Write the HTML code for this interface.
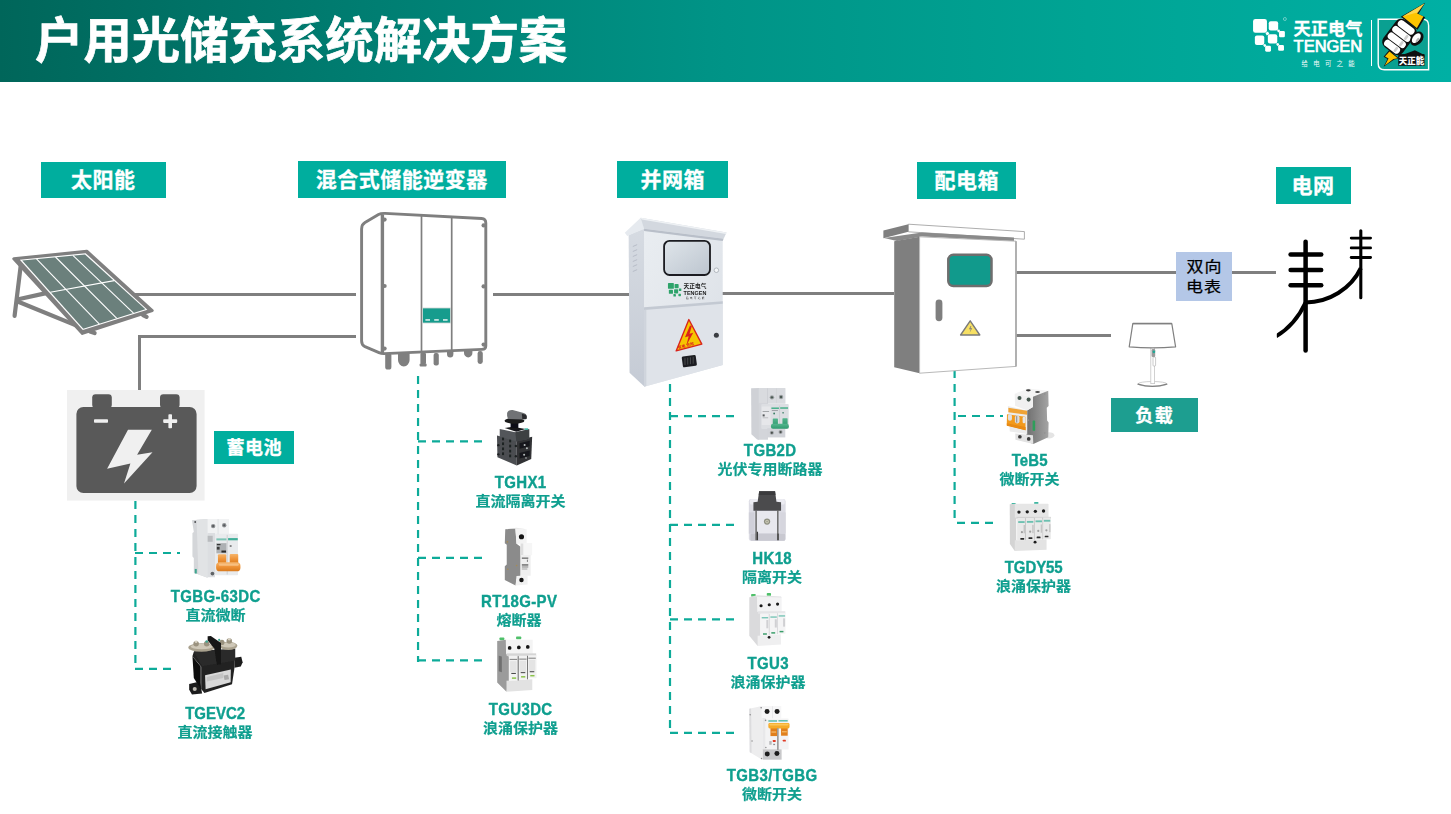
<!DOCTYPE html>
<html lang="zh-CN">
<head>
<meta charset="utf-8">
<title>户用光储充系统解决方案</title>
<style>
*{margin:0;padding:0;box-sizing:border-box}
html,body{width:1451px;height:814px;background:#fff;overflow:hidden}
body{font-family:"Liberation Sans","Noto Sans CJK SC",sans-serif;position:relative}
#stage{position:absolute;left:0;top:0;width:1451px;height:814px;overflow:hidden;background:#fff}
#hdr{position:absolute;left:0;top:0;width:1451px;height:82px;background:linear-gradient(90deg,#00665a 0%,#007d71 25%,#009487 50%,#00a494 75%,#00b0a4 100%)}
#title{position:absolute;left:34.5px;top:6.2px;transform-origin:0 0;transform:scale(1.008,1.022);-webkit-text-stroke:0.7px #fff;font-size:48px;line-height:70px;font-weight:bold;color:#fff;white-space:nowrap;font-family:"Liberation Sans","Noto Sans CJK SC",sans-serif}
.tag{-webkit-text-stroke:0.3px #fff;position:absolute;background:#00ae9e;color:#fff;font-weight:bold;font-size:21px;letter-spacing:0.5px;text-indent:0.5px;text-align:center;white-space:nowrap;font-family:"Liberation Sans","Noto Sans CJK SC",sans-serif}
.tag.s{font-size:18px;letter-spacing:0.5px;text-indent:0.5px}
.pl{position:absolute;color:#0f9f8f;font-weight:bold;text-align:center;white-space:nowrap;transform:translateX(-50%);font-family:"Liberation Sans","Noto Sans CJK SC",sans-serif}
.pl .en{display:block;position:relative;top:-0.3px;transform:scaleY(1.07);transform-origin:50% 80%;font-size:15px;line-height:18px;letter-spacing:0.35px;text-indent:0.35px;-webkit-text-stroke:0.35px #0f9f8f}
.pl .cn{display:block;font-size:15px;line-height:18px;transform:scaleY(0.94);-webkit-text-stroke:0.2px #0f9f8f}
#gfx{position:absolute;left:0;top:0;width:1451px;height:814px}
#meter{position:absolute;left:1176px;top:252px;width:56px;height:49px;background:#b4c7e7;color:#000;font-size:17px;line-height:22.4px;text-align:center;padding-top:0;-webkit-text-stroke:0.25px #000;font-family:"Liberation Sans","Noto Sans CJK SC",sans-serif}
</style>
</head>
<body>
<div id="stage">
<div id="hdr"></div>
<div id="title">户用光储充系统解决方案</div>

<svg id="gfx" viewBox="0 0 1451 814" width="1451" height="814">
<defs><filter id="soft" x="-5%" y="-5%" width="110%" height="110%"><feGaussianBlur stdDeviation="0.45"/></filter></defs>
<defs><filter id="soft2" x="-5%" y="-5%" width="110%" height="110%"><feGaussianBlur stdDeviation="1.2"/></filter></defs>
<!-- WIRES -->
<g id="wires" stroke="#7f7f7f" stroke-width="3" fill="none">
<line x1="135" y1="294.5" x2="356" y2="294.5"/>
<polyline points="139.5,390 139.5,336.5 356,336.5"/>
<line x1="493" y1="294.5" x2="630" y2="294.5"/>
<line x1="722" y1="293.5" x2="894" y2="293.5"/>
<line x1="1016" y1="272.5" x2="1276" y2="272.5"/>
<line x1="1016" y1="335.5" x2="1111" y2="335.5"/>
</g>
<!-- DASHES -->
<g id="dashes" stroke="#0dab99" stroke-width="2.2" fill="none" stroke-dasharray="8 6">
<line x1="135.4" y1="501" x2="135.4" y2="663"/>
<line x1="135" y1="553" x2="180" y2="553"/>
<line x1="135" y1="668.9" x2="171" y2="668.9"/>
<line x1="418.05" y1="376" x2="418.05" y2="662"/>
<line x1="418" y1="441.4" x2="482" y2="441.4"/>
<line x1="418" y1="557.8" x2="482" y2="557.8"/>
<line x1="418" y1="660.3" x2="482" y2="660.3"/>
<line x1="670" y1="384" x2="670" y2="734"/>
<line x1="670" y1="416.1" x2="734" y2="416.1"/>
<line x1="670" y1="524.8" x2="734" y2="524.8"/>
<line x1="670" y1="619.3" x2="734" y2="619.3"/>
<line x1="670" y1="732.9" x2="734" y2="732.9"/>
<line x1="954.6" y1="370" x2="954.6" y2="518"/>
<line x1="958" y1="416" x2="1003" y2="416"/>
<line x1="957" y1="522.9" x2="993" y2="522.9"/>
</g>
<!-- SOLAR PANEL -->
<g id="solar">
<g stroke="#7f7f7f" stroke-width="4.2" stroke-linecap="round" fill="none">
<line x1="20.8" y1="265" x2="14.6" y2="315.8"/>
<line x1="18.3" y1="299.2" x2="45" y2="293.4"/>
<line x1="18.3" y1="301.8" x2="76" y2="325.4"/>
<line x1="143" y1="315" x2="146.6" y2="316.8"/>
<line x1="90" y1="331.5" x2="94.6" y2="333"/>
</g>
<polygon points="13.8,258.8 86.8,251.2 152.2,310.6 82.4,333.4" fill="#7f7f7f" stroke="#7f7f7f" stroke-width="3" stroke-linejoin="round"/>
<polygon points="19.8,259.7 85.6,253.2 147.4,309.8 82.8,330" fill="#fff"/>
<polygon points="22.2,260.5 85,254.4 145.4,309.3 83.3,328.8" fill="#6b807c"/>
<g stroke="#fff" stroke-width="1.1" fill="none">
<line x1="36.5" y1="258.8" x2="99.4" y2="324.2"/>
<line x1="55.5" y1="257" x2="116.8" y2="318.4"/>
<line x1="72.9" y1="255.4" x2="133.5" y2="313.2"/>
<line x1="50.3" y1="292.3" x2="114.2" y2="280.6"/>
</g>
</g>
<!-- INVERTER -->
<g id="inverter">
<g fill="#7f7f7f">
<rect x="385.2" y="353" width="6.2" height="16.5" rx="2.6"/>
<path d="M398,353 h11.6 v7 a5.8,6.5 0 0 1 -11.6,0 z"/>
<rect x="420.4" y="353" width="5.6" height="11" rx="1"/>
<rect x="419.6" y="363.5" width="7" height="3" rx="1"/>
<rect x="433.6" y="353" width="5.2" height="12.5" rx="2"/>
<path d="M447,351 h6.4 v3 a3.2,3.6 0 0 1 -6.4,0 z"/>
<path d="M464,350 h8.4 v3 a4.2,4.4 0 0 1 -8.4,0 z"/>
<rect x="477.6" y="351" width="5.2" height="13" rx="2.4"/>
</g>
<path d="M361.6,229 Q361.6,224.6 365,222.6 L378.5,214.6 Q381,213.2 385,213.4 L481.6,218.5 Q485.8,218.8 485.8,223 L485.8,346 Q485.8,349.2 482,349.4 L384,353.6 Q381.4,353.7 379,352.6 L365,346.6 Q361.6,345 361.6,341 Z" fill="#fff" stroke="#7f7f7f" stroke-width="2.9" stroke-linejoin="round"/>
<line x1="382.4" y1="214.5" x2="382.4" y2="353.4" stroke="#7f7f7f" stroke-width="3.4"/>
<line x1="421.5" y1="215.6" x2="421.5" y2="351.8" stroke="#7f7f7f" stroke-width="1.7"/>
<line x1="451.7" y1="217" x2="451.7" y2="350.6" stroke="#7f7f7f" stroke-width="1.7"/>
<g fill="#7f7f7f">
<circle cx="384.6" cy="219.6" r="2.1"/><circle cx="384.6" cy="286" r="2.1"/><circle cx="384.6" cy="348.6" r="2.1"/>
<circle cx="483.6" cy="225.4" r="2.1"/><circle cx="483.6" cy="286.4" r="2.1"/><circle cx="483.6" cy="344.6" r="2.1"/>
</g>
<rect x="422.6" y="308" width="28" height="15" fill="#169c8d" stroke="#d0d6d4" stroke-width="0.8"/>
<g fill="#e8f2f0"><rect x="425.4" y="319.2" width="4.6" height="1.5"/><rect x="434.2" y="319.2" width="4.6" height="1.5"/><rect x="443" y="319.2" width="4.6" height="1.5"/></g>
</g>
<!-- DISTRIBUTION BOX -->
<g id="dbox">
<polygon points="883.4,230.6 908.4,224.2 908.4,231.8 883.4,238.2" fill="#7f7f7f"/>
<polygon points="908.4,224.2 1024.4,231.6 1024.4,239.2 908.4,231.8" fill="#fff" stroke="#8a8a8a" stroke-width="0.7"/>
<polygon points="884,238 922,232.6 1014,237.6 1014,241.4 922,236.6 897,241" fill="#8a8a8a"/>
<polygon points="894.2,241.2 919.6,236.8 919.6,373.2 894.2,367.2" fill="#7f7f7f"/>
<polygon points="919.6,236.8 1016,241.2 1016,366.4 919.6,373.2" fill="#fff" stroke="#b9b9b9" stroke-width="1"/>
<line x1="1016" y1="241.2" x2="1016" y2="366.4" stroke="#a6a6a6" stroke-width="1.6"/>
<rect x="948.3" y="254.8" width="43.2" height="31.2" rx="5" fill="#119a8c" stroke="#6e6e6e" stroke-width="2.5"/>
<rect x="935.6" y="299.6" width="6.8" height="21.6" rx="3.4" fill="#7f7f7f"/>
<polygon points="970.2,320.8 979.8,335 960.6,335" fill="#f7e064" stroke="#7a7a7a" stroke-width="1.4" stroke-linejoin="round"/>
<path d="M970.6,326 l-1.6,3.2 h1.8 l-1.2,3.6 l2.6,-4.6 h-1.8 l1,-2.2 z" fill="#7a7a7a"/>
</g>
<!-- PYLON -->
<g id="pylon" stroke="#000" fill="none" stroke-linecap="round">
<g stroke-width="4.5">
<line x1="1305.6" y1="241.8" x2="1305.6" y2="350.4"/>
<line x1="1290.6" y1="254.4" x2="1321.2" y2="254.4"/>
<line x1="1290.6" y1="269.9" x2="1321.2" y2="269.9"/>
<line x1="1290.6" y1="285.3" x2="1321.2" y2="285.3"/>
</g>
<line x1="1360.8" y1="230.8" x2="1360.8" y2="297.8" stroke-width="3.1"/>
<g stroke-width="2.8">
<line x1="1351.2" y1="238.1" x2="1370.6" y2="238.1"/>
<line x1="1351.2" y1="247.9" x2="1370.6" y2="247.9"/>
<line x1="1351.2" y1="257.5" x2="1370.6" y2="257.5"/>
</g>
<path d="M1276,336.4 Q1295.3,324.9 1305.6,302.5" stroke-width="4" stroke-linecap="butt"/>
<path d="M1305.6,302.5 C1328.8,302.5 1351.1,288.8 1360.8,268.2" stroke-width="4" stroke-linecap="butt"/>
</g>
<rect x="1270" y="328" width="6.8" height="14" fill="#fff"/>
<!-- LAMP -->
<g id="lamp">
<ellipse cx="1152.4" cy="383.9" rx="14.4" ry="2.4" fill="#fff" stroke="#c4c4c4" stroke-width="0.8"/>
<path d="M1138,384.2 Q1152.4,388.6 1166.8,384.2" fill="none" stroke="#808080" stroke-width="1.4" stroke-linecap="round"/>
<rect x="1150.8" y="347" width="3.8" height="36.6" fill="#fff" stroke="#c6c6c6" stroke-width="0.8"/>
<rect x="1151.6" y="349" width="3.6" height="8" rx="1.2" fill="#9a9a9a"/>
<rect x="1153" y="357" width="2.6" height="9" rx="0.8" fill="#fff" stroke="#a8a8a8" stroke-width="0.6"/>
<circle cx="1153.9" cy="351.8" r="1.35" fill="#1fa997"/>
<path d="M1132.8,323.6 L1171.8,323.6 L1175.6,346.9 Q1152.4,349 1129.2,346.9 Z" fill="#fff" stroke="#808080" stroke-width="1.2" stroke-linejoin="round"/>
<line x1="1132.8" y1="323.6" x2="1171.8" y2="323.6" stroke="#808080" stroke-width="1.5"/>
</g>
<!-- BATTERY -->
<g id="battery">
<rect x="67" y="390" width="137.6" height="110.6" fill="#f0f0f0"/>
<rect x="92.2" y="394.2" width="19.6" height="14" rx="3.4" fill="#595959"/>
<rect x="160" y="394.2" width="19.6" height="14" rx="3.4" fill="#595959"/>
<rect x="76.4" y="407" width="120.2" height="86" rx="7" fill="#595959"/>
<rect x="94" y="419.2" width="14" height="3.6" rx="0.8" fill="#f0f0f0"/>
<rect x="163.2" y="419.3" width="14" height="3.6" rx="0.8" fill="#f0f0f0"/>
<rect x="168.4" y="414.2" width="3.6" height="14" rx="0.8" fill="#f0f0f0"/>
<polygon points="128,429.7 151.8,429.7 137.1,454.8 152.5,452.3 124,483.5 130.4,463.4 107.1,468.8" fill="#f0f0f0"/>
</g>

<g id="prods" filter="url(#soft)">
<defs>
<linearGradient id="gSide" x1="0" y1="0" x2="1" y2="0"><stop offset="0" stop-color="#c9ccd0"/><stop offset="1" stop-color="#e2e4e7"/></linearGradient>
<linearGradient id="gOr" x1="0" y1="0" x2="0" y2="1"><stop offset="0" stop-color="#f6b46a"/><stop offset="0.5" stop-color="#ee9236"/><stop offset="1" stop-color="#d97a1e"/></linearGradient>
<linearGradient id="gGr" x1="0" y1="0" x2="0" y2="1"><stop offset="0" stop-color="#55b58e"/><stop offset="1" stop-color="#2f9a6f"/></linearGradient>
<linearGradient id="gDk" x1="0" y1="0" x2="1" y2="0"><stop offset="0" stop-color="#6f6f6f"/><stop offset="1" stop-color="#a4a4a4"/></linearGradient>
</defs>
<!-- TGBG-63DC -->
<g transform="translate(180 510) scale(0.09211)">
<polygon points="130,110 300,98 300,735 240,715 150,680 150,520 135,505 135,250 150,240" fill="#d4d6d9"/>
<polygon points="180,105 300,98 300,735 200,700" fill="#e1e3e5"/>
<rect x="300" y="98" width="232" height="165" fill="#f1f2f3"/>
<rect x="300" y="250" width="80" height="480" fill="#dcdee1"/>
<rect x="380" y="258" width="250" height="450" rx="8" fill="#e9ebed"/>
<rect x="410" y="98" width="6" height="165" fill="#d0d2d5"/>
<circle cx="360" cy="175" r="24" fill="#8e9093"/><circle cx="360" cy="175" r="12" fill="#55585b"/>
<circle cx="480" cy="166" r="24" fill="#8e9093"/><circle cx="480" cy="166" r="12" fill="#55585b"/>
<rect x="300" y="280" width="55" height="65" fill="#b9bbbe"/>
<rect x="395" y="308" width="110" height="22" fill="#7fc4b6"/>
<rect x="522" y="305" width="105" height="24" fill="#3fae98"/>
<rect x="395" y="360" width="110" height="110" fill="#9ea1a4" opacity="0.8"/>
<rect x="400" y="370" width="40" height="12" fill="#2a2a2a"/><rect x="400" y="400" width="30" height="30" fill="#3a3a3a"/><rect x="450" y="440" width="50" height="22" fill="#2a2a2a"/>
<rect x="540" y="385" width="20" height="12" fill="#333"/>
<rect x="508" y="270" width="8" height="430" fill="#c4c6c9"/>
<rect x="412" y="480" width="90" height="110" rx="10" fill="url(#gOr)"/>
<rect x="540" y="478" width="92" height="110" rx="10" fill="url(#gOr)"/>
<rect x="392" y="568" width="264" height="98" rx="40" fill="url(#gOr)"/>
<rect x="420" y="582" width="220" height="22" rx="11" fill="#f8c68c" opacity="0.8"/>
<circle cx="352" cy="690" r="20" fill="#606366"/>
<rect x="160" y="640" width="22" height="50" fill="#3fa58f"/>
<circle cx="165" cy="130" r="10" fill="#4a4d50"/>
</g>
<!-- TGEVC2 contactor -->
<g transform="translate(180 630) scale(0.09211)">
<polygon points="100,585 215,560 240,690 130,700 100,650" fill="#1c1c1c"/>
<circle cx="160" cy="640" r="22" fill="#bdbab2"/>
<polygon points="590,300 665,290 680,350 660,395 590,410" fill="#1e1e1e"/>
<polygon points="135,285 230,400 230,640 265,685 565,590 590,420 595,215 150,235" fill="#232323"/>
<polygon points="135,285 225,395 225,640 150,520" fill="#111"/>
<polygon points="150,230 600,200 600,330 240,390" fill="#2c2c2c"/>
<ellipse cx="232" cy="190" rx="142" ry="46" fill="#a9a18e"/>
<ellipse cx="525" cy="172" rx="98" ry="44" fill="#a9a18e"/>
<ellipse cx="235" cy="180" rx="120" ry="30" fill="#cfc8b8"/>
<ellipse cx="525" cy="162" rx="80" ry="28" fill="#cfc8b8"/>
<circle cx="175" cy="150" r="30" fill="#9a927f"/><circle cx="290" cy="150" r="30" fill="#9a927f"/>
<circle cx="455" cy="135" r="28" fill="#9a927f"/><circle cx="535" cy="120" r="30" fill="#9a927f"/>
<circle cx="175" cy="128" r="14" fill="#d8d2c4"/><circle cx="290" cy="125" r="14" fill="#3fa58f"/>
<circle cx="425" cy="108" r="12" fill="#3fa58f"/><circle cx="535" cy="100" r="14" fill="#d8d2c4"/>
<polygon points="300,68 335,64 445,140 445,372 400,378 372,200 300,110" fill="#161616"/>
<polygon points="272,492 552,428 550,568 278,642" fill="#d9d9d9"/>
<polygon points="290,510 470,468 470,520 290,560" fill="#c4c4c4"/>
<rect x="478" y="490" width="50" height="50" fill="#a9a9a9" transform="rotate(-12 500 515)"/>
</g>
<!-- TGHX1 -->
<g transform="translate(485 400) scale(0.09211)">
<polygon points="130,385 345,440 345,712 135,622" fill="#4b4e51"/>
<polygon points="345,440 512,400 502,640 345,712" fill="#303234"/>
<polygon points="160,315 330,350 480,318 480,420 340,450 160,400" fill="#53565a"/>
<polygon points="330,350 480,318 480,420 340,450" fill="#3c3f42"/>
<polygon points="215,305 300,290 440,315 340,345" fill="#17181a"/>
<rect x="430" y="308" width="38" height="16" fill="#2fb39f"/>
<rect x="278" y="240" width="84" height="70" fill="#101112"/>
<ellipse cx="320" cy="225" rx="108" ry="32" fill="#1b1c1e"/>
<path d="M240,140 Q250,105 300,108 L420,140 Q460,155 455,195 Q450,215 420,212 L250,205 Q235,180 240,140 Z" fill="#6f7274"/>
<path d="M400,150 L445,160 Q458,180 450,205 L405,205 Z" fill="#2a2b2d"/>
<g fill="#1f2022"><rect x="185" y="408" width="22" height="30"/><rect x="262" y="430" width="22" height="30"/><rect x="185" y="460" width="22" height="30"/><rect x="262" y="485" width="22" height="30"/><rect x="185" y="515" width="22" height="30"/><rect x="262" y="540" width="22" height="30"/><rect x="185" y="568" width="22" height="30"/><rect x="262" y="592" width="22" height="30"/>
<circle cx="145" cy="490" r="13"/><circle cx="145" cy="590" r="13"/><circle cx="335" cy="500" r="13"/><circle cx="335" cy="610" r="13"/></g>
<g fill="#17181a"><rect x="375" y="470" width="110" height="60" transform="skewY(-14)" transform-origin="375 470"/><rect x="375" y="575" width="110" height="60" transform="skewY(-14)" transform-origin="375 575"/></g>
<g fill="#b8bcbf"><circle cx="430" cy="488" r="11"/><circle cx="455" cy="525" r="11"/><circle cx="425" cy="595" r="11"/><circle cx="445" cy="630" r="9"/></g>
</g>
<!-- RT18G-PV -->
<g transform="translate(485 520) scale(0.09211)">
<polygon points="220,100 330,93 342,258 386,290 386,602 342,640 332,712 215,652 215,502 236,482 236,270 215,252" fill="#8b8b8b"/>
<polygon points="330,93 452,100 452,255 342,258" fill="#f3f3f3"/>
<polygon points="220,100 340,85 452,100 330,93" fill="#e0e0e0"/>
<rect x="386" y="250" width="126" height="132" rx="6" fill="#f6f6f6"/>
<rect x="386" y="255" width="30" height="125" fill="#dedede"/>
<rect x="386" y="380" width="110" height="225" fill="#efefef"/>
<polygon points="342,608 462,600 462,700 332,712" fill="#f1f1f1"/>
<circle cx="396" cy="182" r="28" fill="#151515"/>
<circle cx="396" cy="652" r="24" fill="#151515"/>
<rect x="400" y="408" width="70" height="12" fill="#555"/>
<rect x="400" y="482" width="70" height="12" fill="#444"/><rect x="400" y="505" width="70" height="10" fill="#777"/><rect x="400" y="528" width="60" height="8" fill="#888"/>
<rect x="455" y="430" width="10" height="25" fill="#777"/>
<circle cx="243" cy="238" r="9" fill="#a58b55"/><circle cx="247" cy="535" r="9" fill="#a58b55"/><circle cx="343" cy="495" r="9" fill="#a58b55"/>
</g>
<!-- TGU3DC -->
<g transform="translate(482 628) scale(0.09211)">
<rect x="190" y="103" width="52" height="30" rx="8" fill="#4fc06a"/><rect x="370" y="93" width="56" height="30" rx="8" fill="#4fc06a"/>
<polygon points="165,142 262,128 266,282 292,300 292,582 266,692 165,592" fill="#9b9b9b"/>
<polygon points="182,300 215,310 215,480 182,470" fill="#6f6f6f"/>
<polygon points="258,128 550,128 550,282 262,285" fill="#f4f4f4"/>
<polygon points="266,572 546,556 546,672 266,692" fill="#e2e2e2"/>
<rect x="268" y="275" width="320" height="30" fill="#d5d5d5"/>
<rect x="292" y="302" width="98" height="272" rx="5" fill="#f2f2f2"/>
<rect x="396" y="300" width="96" height="262" rx="5" fill="#f2f2f2"/>
<rect x="497" y="296" width="95" height="250" rx="5" fill="#f2f2f2"/>
<g fill="#4a4a4a"><rect x="388" y="305" width="9" height="265"/><rect x="490" y="302" width="8" height="255"/></g>
<g fill="#8a8a8a"><rect x="300" y="335" width="82" height="12"/><rect x="404" y="332" width="80" height="12"/><rect x="504" y="322" width="80" height="12"/></g>
<g fill="#e4e4e4"><rect x="305" y="360" width="70" height="120"/><rect x="408" y="356" width="70" height="120"/><rect x="508" y="346" width="70" height="120"/></g>
<g fill="#333"><rect x="318" y="488" width="50" height="10"/><rect x="420" y="480" width="50" height="10"/><rect x="518" y="470" width="50" height="10"/></g>
<g fill="#8bc34a"><rect x="325" y="536" width="46" height="16"/><rect x="424" y="522" width="46" height="16"/><rect x="524" y="510" width="46" height="16"/></g>
<g fill="#161616"><circle cx="300" cy="216" r="20"/><circle cx="400" cy="211" r="20"/><circle cx="497" cy="205" r="20"/></g>
</g>
<!-- TGB2D -->
<g transform="translate(735 378) scale(0.09211)">
<polygon points="175,112 262,108 262,672 240,668 178,610" fill="#cfd1d6"/>
<rect x="258" y="108" width="290" height="172" rx="6" fill="#d9dbdf"/>
<rect x="258" y="270" width="100" height="400" fill="#d3d5da"/>
<rect x="285" y="282" width="298" height="272" rx="10" fill="#dcdee2"/>
<rect x="350" y="545" width="196" height="100" fill="#d2d4d9"/>
<rect x="290" y="310" width="96" height="200" rx="6" fill="#e6e7ea"/>
<rect x="352" y="112" width="5" height="160" fill="#c2c4c9"/>
<rect x="450" y="112" width="4" height="160" fill="#c8cace"/>
<circle cx="401" cy="210" r="24" fill="#9fa3a6"/><circle cx="401" cy="210" r="13" fill="#4c5a52"/>
<circle cx="500" cy="206" r="24" fill="#9fa3a6"/><circle cx="500" cy="206" r="13" fill="#4c5a52"/>
<circle cx="400" cy="595" r="22" fill="#9fa3a6"/><circle cx="400" cy="595" r="12" fill="#4a4f4c"/>
<circle cx="495" cy="587" r="22" fill="#9fa3a6"/><circle cx="495" cy="587" r="12" fill="#4a4f4c"/>
<rect x="395" y="320" width="82" height="16" fill="#46b08a"/><rect x="490" y="318" width="86" height="16" fill="#46b08a"/>
<rect x="300" y="360" width="70" height="8" fill="#8d8f93"/><rect x="300" y="395" width="22" height="22" fill="#55585b"/><rect x="300" y="430" width="60" height="6" fill="#9a9ca0"/>
<rect x="400" y="350" width="66" height="8" fill="#8d8f93"/><circle cx="425" cy="385" r="10" fill="#3d7f66"/><circle cx="522" cy="378" r="9" fill="#3d7f66"/>
<rect x="482" y="300" width="7" height="200" fill="#c4c6ca"/>
<rect x="410" y="440" width="56" height="80" rx="6" fill="url(#gGr)"/>
<rect x="515" y="436" width="56" height="80" rx="6" fill="url(#gGr)"/>
<rect x="390" y="498" width="195" height="54" rx="22" fill="url(#gGr)"/>
</g>
<!-- HK18 -->
<g transform="translate(735 482) scale(0.09211)">
<rect x="150" y="185" width="400" height="455" rx="26" fill="#dcdce4"/>
<rect x="160" y="185" width="380" height="60" rx="20" fill="#ececf2"/>
<rect x="230" y="310" width="235" height="250" fill="#e8e8ee"/>
<rect x="168" y="560" width="378" height="78" rx="14" fill="#c9c9d1"/>
<rect x="150" y="330" width="60" height="230" fill="#d0d0d9"/>
<rect x="490" y="330" width="60" height="230" fill="#d6d6de"/>
<polygon points="262,100 435,100 450,215 500,220 500,312 200,312 200,220 246,215" fill="#4b4b4d"/>
<polygon points="262,100 435,100 440,140 258,140" fill="#3b3b3d"/>
<rect x="222" y="310" width="14" height="322" fill="#5a5a58"/>
<rect x="458" y="310" width="14" height="322" fill="#5a5a58"/>
<rect x="236" y="540" width="14" height="92" fill="#3a3a3a"/><rect x="462" y="560" width="12" height="72" fill="#3a3a3a"/>
<circle cx="348" cy="430" r="34" fill="#8e8f80"/><circle cx="348" cy="430" r="20" fill="#c9c8b4"/><circle cx="348" cy="430" r="9" fill="#9a9a8c"/>
</g>
<!-- TGU3 -->
<g transform="translate(735 585) scale(0.09211)">
<rect x="175" y="98" width="50" height="30" rx="8" fill="#4fc06a"/><rect x="345" y="88" width="46" height="30" rx="8" fill="#4fc06a"/>
<polygon points="155,132 242,124 246,290 276,310 276,562 246,662 155,552" fill="#dadadc"/>
<polygon points="240,124 506,132 506,290 246,292" fill="#f3f3f4"/>
<polygon points="155,132 240,112 500,125 506,135 242,128" fill="#e2e2e4"/>
<polygon points="246,552 500,535 500,645 246,662" fill="#efeff0"/>
<rect x="250" y="285" width="296" height="28" fill="#e4e4e6"/>
<rect x="276" y="312" width="92" height="240" rx="5" fill="#f4f4f5"/>
<rect x="374" y="308" width="86" height="232" rx="5" fill="#f4f4f5"/>
<rect x="464" y="300" width="84" height="228" rx="5" fill="#f4f4f5"/>
<g fill="#c9c9cc"><rect x="367" y="315" width="8" height="230"/><rect x="458" y="308" width="7" height="225"/></g>
<g fill="#58b8a6"><rect x="290" y="350" width="70" height="12"/><rect x="384" y="342" width="70" height="12"/><rect x="474" y="330" width="70" height="12"/></g>
<g fill="#d0d0d3"><rect x="340" y="380" width="22" height="90"/><rect x="432" y="372" width="22" height="90"/><rect x="522" y="362" width="22" height="90"/></g>
<g fill="#3a9e6a"><rect x="304" y="524" width="42" height="16"/><rect x="394" y="512" width="42" height="16"/><rect x="484" y="498" width="42" height="16"/></g>
<g fill="#1b1b1b"><circle cx="283" cy="225" r="17"/><circle cx="372" cy="215" r="17"/><circle cx="462" cy="207" r="17"/><circle cx="370" cy="568" r="15"/></g>
</g>
<!-- TGB3/TGBG -->
<g transform="translate(735 695) scale(0.09211)">
<polygon points="155,150 292,120 296,702 160,622" fill="#ededee"/>
<polygon points="155,150 175,146 180,630 160,622" fill="#dcdcde"/>
<rect x="290" y="120" width="212" height="135" fill="#f6f6f7"/>
<rect x="296" y="250" width="40" height="345" fill="#e8e8ea"/>
<rect x="330" y="255" width="252" height="338" rx="6" fill="#f3f3f4"/>
<rect x="300" y="590" width="206" height="112" fill="#c8c8ca"/>
<rect x="402" y="122" width="5" height="130" fill="#d8d8da"/>
<g fill="#1a1a1a"><circle cx="348" cy="180" r="27"/><circle cx="457" cy="180" r="27"/><circle cx="350" cy="641" r="27"/><circle cx="455" cy="636" r="27"/></g>
<rect x="362" y="274" width="94" height="16" fill="#5cbcab"/><rect x="472" y="272" width="100" height="16" fill="#5cbcab"/>
<rect x="385" y="350" width="72" height="96" fill="#e07f1c"/><rect x="500" y="350" width="72" height="92" fill="#e07f1c"/>
<rect x="395" y="395" width="52" height="14" fill="#f6b866"/><rect x="510" y="392" width="52" height="14" fill="#f6b866"/>
<rect x="362" y="305" width="230" height="58" rx="16" fill="#f6ab2a"/>
<rect x="372" y="312" width="210" height="18" rx="9" fill="#fbc65a"/>
<rect x="458" y="360" width="14" height="235" fill="#6a6a6a"/><rect x="464" y="360" width="4" height="235" fill="#e8e8e8"/>
<rect x="410" y="488" width="32" height="22" rx="5" fill="#e03a26"/><rect x="520" y="486" width="32" height="20" rx="5" fill="#e03a26"/>
<rect x="372" y="500" width="26" height="40" fill="#b9b9bb"/><rect x="415" y="530" width="20" height="14" fill="#8c8c8e"/>
<g fill="#8a8a8c"><circle cx="284" cy="138" r="9"/><circle cx="165" cy="215" r="8"/><circle cx="185" cy="500" r="8"/><circle cx="332" cy="275" r="9"/><circle cx="335" cy="570" r="8"/><circle cx="288" cy="690" r="8"/></g>
</g>
<!-- TeB5 -->
<g transform="translate(995 380) scale(0.09211)">
<ellipse cx="585" cy="600" rx="60" ry="34" fill="#e4e4e4"/>
<polygon points="210,148 362,92 578,116 412,182" fill="#f4f4f4"/>
<polygon points="412,182 578,116 582,282 562,300 566,440 582,462 578,622 416,696 342,664 345,330 412,292" fill="url(#gDk)"/>
<polygon points="214,148 412,182 412,292 350,332 218,280" fill="#f0f0f0"/>
<ellipse cx="362" cy="112" rx="26" ry="12" fill="#3a3a3a"/><ellipse cx="462" cy="130" rx="26" ry="11" fill="#4a4a4a"/>
<circle cx="266" cy="195" r="22" fill="#44564e"/><circle cx="365" cy="213" r="22" fill="#44564e"/>
<polygon points="140,282 350,330 350,585 160,560" fill="#ececec"/>
<polygon points="145,300 348,335 348,378 145,350" fill="#f0a334"/>
<polygon points="130,372 330,400 332,545 128,492" fill="#f29a1f"/>
<polygon points="128,470 332,510 332,545 128,498" fill="#e88a12"/>
<rect x="140" y="372" width="44" height="70" rx="20" fill="#e0e0e0"/><rect x="216" y="385" width="50" height="86" rx="22" fill="#dcdcdc"/><rect x="300" y="400" width="30" height="70" rx="14" fill="#e6e6e6"/>
<rect x="228" y="392" width="14" height="70" fill="#9a9a9a"/>
<polygon points="220,580 412,600 416,696 222,650" fill="#e2e2e2"/>
<circle cx="270" cy="616" r="20" fill="#3c3c3c"/><circle cx="366" cy="640" r="20" fill="#3c3c3c"/>
<rect x="408" y="440" width="28" height="112" rx="10" fill="#2f9e5a"/>
<g fill="#8f8f8f"><circle cx="540" cy="152" r="9"/><circle cx="478" cy="422" r="9"/><circle cx="540" cy="575" r="9"/><circle cx="362" cy="436" r="9"/></g>
</g>
<!-- TGDY55 -->
<g transform="translate(995 490) scale(0.09211)">
<rect x="180" y="140" width="46" height="20" rx="6" fill="#3fb7a2"/><rect x="425" y="130" width="46" height="22" rx="6" fill="#3fb7a2"/>
<polygon points="160,155 230,150 232,640 215,662 162,585" fill="#d4d4d4"/>
<rect x="215" y="150" width="366" height="150" rx="8" fill="#e6e6e6"/>
<polygon points="215,545 560,535 560,648 215,662" fill="#e3e3e3"/>
<rect x="232" y="292" width="376" height="22" fill="#d2d2d2"/>
<g fill="#e9e9e9"><rect x="240" y="305" width="88" height="242" rx="5"/><rect x="336" y="303" width="88" height="240" rx="5"/><rect x="430" y="300" width="86" height="238" rx="5"/><rect x="520" y="298" width="86" height="236" rx="5"/></g>
<g fill="#bdbdbd"><rect x="327" y="308" width="9" height="236"/><rect x="423" y="306" width="8" height="234"/><rect x="515" y="303" width="7" height="232"/></g>
<g fill="#6cc0b0"><rect x="252" y="338" width="70" height="20"/><rect x="346" y="336" width="70" height="20"/><rect x="440" y="330" width="70" height="20"/><rect x="530" y="324" width="70" height="20"/></g>
<g fill="#c4c4c4"><rect x="310" y="380" width="16" height="90"/><rect x="404" y="378" width="16" height="90"/><rect x="496" y="374" width="16" height="90"/><rect x="588" y="370" width="14" height="88"/></g>
<g fill="#a0a0a0"><circle cx="292" cy="458" r="12"/><circle cx="382" cy="452" r="12"/><circle cx="470" cy="444" r="12"/><circle cx="558" cy="438" r="12"/></g>
<g fill="#2b2b2b"><rect x="275" y="520" width="42" height="20" rx="4"/><rect x="364" y="512" width="42" height="20" rx="4"/><rect x="452" y="506" width="42" height="18" rx="4"/><rect x="540" y="496" width="40" height="18" rx="4"/></g>
<g fill="#1b1b1b"><circle cx="260" cy="240" r="18"/><circle cx="350" cy="237" r="18"/><circle cx="438" cy="232" r="18"/><circle cx="527" cy="228" r="18"/><circle cx="435" cy="566" r="16"/></g>
</g>

</g>
<defs>
<linearGradient id="cFront" x1="0" y1="0" x2="1" y2="1"><stop offset="0" stop-color="#e9edf1"/><stop offset="0.5" stop-color="#e3e7ec"/><stop offset="1" stop-color="#d9dee5"/></linearGradient>
<linearGradient id="cSide" x1="0" y1="0" x2="0" y2="1"><stop offset="0" stop-color="#d6dbe2"/><stop offset="1" stop-color="#c5cbd5"/></linearGradient>
<linearGradient id="cWin" x1="0" y1="0" x2="1" y2="1"><stop offset="0" stop-color="#dfe5ea"/><stop offset="1" stop-color="#bcc5cf"/></linearGradient>
</defs>
<!-- GRID-TIE CABINET -->
<g id="cab" transform="translate(610 210) scale(0.22727)" filter="url(#soft2)">
<polygon points="82,110 152,80 152,778 86,716" fill="url(#cSide)"/>
<polygon points="150,80 496,124 496,682 150,778" fill="url(#cFront)"/>
<polygon points="150,436 496,410 496,682 150,778" fill="#dfe3e9"/>
<polygon points="150,428 496,402 496,412 150,440" fill="#c3c9d2"/>
<polygon points="150,440 160,439 160,774 150,778" fill="#cfd4dc"/>
<polygon points="65,100 135,34 152,48 152,82 76,114" fill="#e6eaef"/>
<polygon points="135,34 513,99 500,127 150,82" fill="#d3d8df"/>
<polygon points="135,34 513,99 510,106 140,42" fill="#eef1f4"/>
<polygon points="150,82 500,127 496,136 150,92" fill="#b9bfc9"/>
<rect x="238" y="136" width="202" height="150" rx="24" fill="url(#cWin)" stroke="#1b1d20" stroke-width="8"/>
<g stroke="#b4bac4" stroke-width="4" stroke-linecap="round"><line x1="102" y1="160" x2="118" y2="153"/><line x1="102" y1="182" x2="118" y2="175"/><line x1="102" y1="204" x2="118" y2="197"/><line x1="102" y1="226" x2="118" y2="219"/><line x1="102" y1="248" x2="118" y2="241"/><line x1="102" y1="270" x2="118" y2="263"/></g>
<circle cx="468" cy="265" r="10" fill="#f4f6f8" stroke="#9aa0a8" stroke-width="3"/>
<circle cx="468" cy="551" r="11" fill="#3a3d42"/>
<g fill="#2ea36b"><rect x="255" y="321" width="26" height="26" rx="3"/><rect x="284" y="326" width="18" height="18" rx="3"/><rect x="303" y="345" width="11" height="11" rx="2"/><rect x="259" y="351" width="18" height="18" rx="3"/><rect x="282" y="349" width="18" height="18" rx="3"/><rect x="279" y="370" width="11" height="11" rx="2"/><rect x="301" y="368" width="11" height="11" rx="2"/></g>
<text x="324" y="345" font-family="'Liberation Sans','Noto Sans CJK SC',sans-serif" font-weight="bold" font-size="25" fill="#1c1c1c" textLength="100" lengthAdjust="spacingAndGlyphs">天正电气</text>
<text x="324" y="372" font-family="'Liberation Sans','Noto Sans CJK SC',sans-serif" font-weight="bold" font-size="24" fill="#1c1c1c" textLength="100" lengthAdjust="spacingAndGlyphs">TENGEN</text>
<text x="334" y="391" font-family="'Liberation Sans','Noto Sans CJK SC',sans-serif" font-size="12" fill="#444" textLength="82" lengthAdjust="spacing">给电可之能</text>
<polygon points="347,482 404,590 291,620" fill="#f6c500" stroke="#d9241c" stroke-width="6" stroke-linejoin="round"/>
<polygon points="352,508 330,560 346,556 336,596 366,540 350,544 360,510" fill="#d9241c"/>
<text x="300" y="612" font-family="'Liberation Sans','Noto Sans CJK SC',sans-serif" font-weight="bold" font-size="17" fill="#d9241c" transform="rotate(-15 300 612)">有电 危险</text>
<rect x="318" y="641" width="62" height="48" rx="6" fill="#1d1f22" transform="rotate(-8 349 665)"/>
<g stroke="#5a5d62" stroke-width="3"><line x1="330" y1="652" x2="330" y2="682"/><line x1="342" y1="650" x2="342" y2="680"/><line x1="354" y1="648" x2="354" y2="678"/><line x1="366" y1="646" x2="366" y2="676"/></g>
</g>
<!-- HEADER LOGO -->
<g id="logo" fill="#fff">
<rect x="1253.06" y="18.96" width="13.89" height="13.89" rx="2.40"/>
<rect x="1268.75" y="21.20" width="9.41" height="9.41" rx="2.00"/>
<rect x="1279.05" y="31.06" width="5.82" height="6.27" rx="1.30"/>
<rect x="1254.86" y="35.54" width="9.41" height="9.41" rx="2.00"/>
<rect x="1267.85" y="34.19" width="9.41" height="9.41" rx="2.00"/>
<rect x="1265.16" y="45.84" width="5.82" height="5.82" rx="1.30"/>
<rect x="1278.15" y="44.95" width="5.82" height="5.82" rx="1.30"/>
<polygon points="1265.43,32.89 1267.99,31.51 1269.37,34.07 1266.81,35.45"/>
<polygon points="1276.99,30.39 1279.09,29.27 1280.22,31.36 1278.12,32.49"/>
<polygon points="1263.10,44.91 1265.20,43.78 1266.33,45.88 1264.23,47.01"/>
<polygon points="1276.09,43.84 1278.19,42.71 1279.32,44.80 1277.22,45.93"/>
<circle cx="1284.9" cy="19" r="1.5" fill="none" stroke="#fff" stroke-width="0.5" opacity="0.8"/>
<text x="1293.4" y="35.3" font-family="'Liberation Sans','Noto Sans CJK SC',sans-serif" font-weight="bold" font-size="17.4" textLength="69" lengthAdjust="spacingAndGlyphs" stroke="#fff" stroke-width="0.3">天正电气</text>
<text x="1293.6" y="51.9" font-family="'Liberation Sans','Noto Sans CJK SC',sans-serif" font-weight="normal" font-size="15.8" textLength="68.6" lengthAdjust="spacingAndGlyphs" stroke="#fff" stroke-width="0.7">TENGEN</text>
<text x="1301.6" y="66" font-family="'Liberation Sans','Noto Sans CJK SC',sans-serif" font-size="6.4" textLength="53" lengthAdjust="spacing" opacity="0.95">给电可之能</text>
<rect x="1371" y="20" width="1" height="46"/>
</g>
<g id="fist" transform="translate(1376 0) scale(0.08842)">
<path d="M25,218 H525 Q595,218 595,288 V788 H95 Q25,788 25,718 Z" fill="#0aa091" stroke="#fff" stroke-width="16"/>
<polygon points="556,30 480,158 556,196 470,336 280,190" fill="#141414"/>
<polygon points="548,40 462,150 536,188 462,318 300,186" fill="#fdc400"/>
<polygon points="548,40 470,150 456,144 300,186" fill="#ffe58a" opacity="0.55"/>
<polygon points="150,566 262,662 206,674 86,756 130,668 86,642" fill="#141414"/>
<polygon points="152,582 246,658 196,666 100,742 142,662 102,640" fill="#fdc400"/>
<g transform="translate(262 418) rotate(-53)">
<rect x="-190" y="-136" width="384" height="276" rx="76" fill="#0f0f0f"/>
<g fill="#fff">
<rect x="-176" y="-100" width="80" height="204" rx="38"/>
<rect x="-86" y="-116" width="80" height="234" rx="38"/>
<rect x="4" y="-120" width="80" height="240" rx="38"/>
<rect x="94" y="-110" width="80" height="216" rx="38"/>
</g>
<g fill="#cfcfcf"><rect x="-168" y="40" width="64" height="30" rx="14"/><rect x="-78" y="50" width="64" height="30" rx="14"/><rect x="12" y="52" width="64" height="30" rx="14"/></g>
</g>
<ellipse cx="462" cy="438" rx="90" ry="64" transform="rotate(-50 462 438)" fill="#0f0f0f"/>
<ellipse cx="456" cy="432" rx="64" ry="38" transform="rotate(-50 456 432)" fill="#fff"/>
<ellipse cx="470" cy="452" rx="30" ry="13" transform="rotate(-50 470 452)" fill="#b9b9b9"/>
<rect x="252" y="612" width="296" height="132" fill="#0f0f0f"/>
<polygon points="252,640 440,568 548,622 548,650 252,650" fill="#0f0f0f"/>
<text x="258" y="726" font-family="'Liberation Sans','Noto Sans CJK SC',sans-serif" font-weight="900" font-size="100" fill="#fff" textLength="286" lengthAdjust="spacingAndGlyphs">天正能</text>
</g>
<!--ICONS4-->
</svg>

<div class="tag" style="left:41px;top:162px;width:125px;height:36px;line-height:35px;text-indent:-0.5px">太阳能</div>
<div class="tag" style="left:298px;top:161px;width:208px;height:37px;line-height:37px;text-indent:-0.5px">混合式储能逆变器</div>
<div class="tag" style="left:617px;top:161px;width:111px;height:37px;line-height:38px">并网箱</div>
<div class="tag" style="left:917px;top:162px;width:99px;height:37px;line-height:38px">配电箱</div>
<div class="tag" style="left:1276px;top:167px;width:75px;height:37px;line-height:38px;text-indent:-1px">电网</div>
<div class="tag s" style="left:214px;top:431px;width:80px;height:33px;line-height:34px">蓄电池</div>
<div class="tag s" style="left:1111px;top:398px;width:87px;height:34px;line-height:36px;background:#1d9e90;letter-spacing:1.6px;text-indent:0.6px">负载</div>

<div id="meter"><div style="transform:scaleY(0.9);transform-origin:50% 0;padding-top:5.5px;letter-spacing:1px;text-indent:1px">双向<br>电表</div></div>

<div class="pl" style="left:215.5px;top:588px"><span class="en">TGBG-63DC</span><span class="cn">直流微断</span></div>
<div class="pl" style="left:215px;top:705px"><span class="en" style="letter-spacing:0px">TGEVC2</span><span class="cn">直流接触器</span></div>
<div class="pl" style="left:520.5px;top:474px"><span class="en">TGHX1</span><span class="cn">直流隔离开关</span></div>
<div class="pl" style="left:519px;top:593px"><span class="en">RT18G-PV</span><span class="cn">熔断器</span></div>
<div class="pl" style="left:520.5px;top:701px"><span class="en">TGU3DC</span><span class="cn">浪涌保护器</span></div>
<div class="pl" style="left:770px;top:442px"><span class="en">TGB2D</span><span class="cn">光伏专用断路器</span></div>
<div class="pl" style="left:772px;top:550px"><span class="en">HK18</span><span class="cn">隔离开关</span></div>
<div class="pl" style="left:768px;top:655px"><span class="en">TGU3</span><span class="cn">浪涌保护器</span></div>
<div class="pl" style="left:772px;top:767px"><span class="en">TGB3/TGBG</span><span class="cn">微断开关</span></div>
<div class="pl" style="left:1029.5px;top:452px"><span class="en" style="letter-spacing:0.1px">TeB5</span><span class="cn">微断开关</span></div>
<div class="pl" style="left:1033.5px;top:559px"><span class="en" style="letter-spacing:-0.1px">TGDY55</span><span class="cn">浪涌保护器</span></div>
</div>
</body>
</html>
